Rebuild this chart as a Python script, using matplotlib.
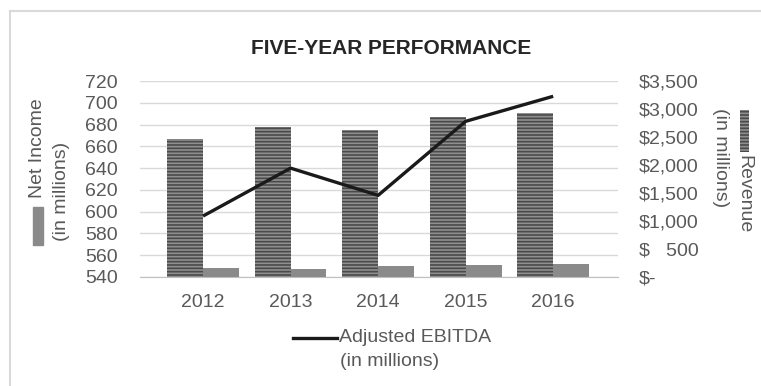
import matplotlib
matplotlib.use("Agg")
import matplotlib.pyplot as plt
from matplotlib.lines import Line2D
from matplotlib.patches import Rectangle

plt.rcParams['font.family'] = ['Liberation Sans', 'DejaVu Sans']
plt.rcParams['hatch.linewidth'] = 1.2

years = ['2012', '2013', '2014', '2015', '2016']
revenue = [2465, 2685, 2625, 2850, 2925]          # right axis, $ millions
net_income = [548.6, 547.1, 549.8, 551.0, 552.3]  # left axis
adj_ebitda = [596, 640, 615, 683, 706]            # left axis

left_ticks = list(range(540, 721, 20))
right_ticks = list(range(0, 3501, 500))
right_labels = ['$-', '$   500', '$1,000', '$1,500', '$2,000', '$2,500', '$3,000', '$3,500']

TXT = '#595959'
GRID = '#d9d9d9'
FS = 14

fig = plt.figure(figsize=(7.61, 3.86), dpi=100)
rect = [0.184, 0.2824, 0.628, 0.5076]

ax = fig.add_axes(rect)
x = list(range(len(years)))
w = 0.41

# left scale: grid and net income bars
ax.bar(x, net_income, width=w, align='edge', color='#8a8a8a', zorder=2)
ax.set_ylim(540, 720)
ax.set_yticks(left_ticks)
ax.set_xlim(-0.72, 4.74)
ax.set_xticks(x)
ax.set_xticklabels(years)
ax.grid(axis='y', color=GRID, linewidth=1)
ax.set_axisbelow(True)
for s in ['top', 'left', 'right']:
    ax.spines[s].set_visible(False)
ax.spines['bottom'].set_color('#bfbfbf')
ax.tick_params(axis='y', length=0, labelsize=FS, labelcolor=TXT, pad=16)
ax.tick_params(axis='x', length=0, labelsize=FS, labelcolor=TXT, pad=12)

# right scale: revenue bars
ax2 = ax.twinx()
ax2.bar(x, revenue, width=-w, align='edge', color='#8f8f8f', edgecolor='#4a4a4a',
        hatch='-----', linewidth=0)
ax2.set_ylim(0, 3500)
ax2.set_yticks(right_ticks)
ax2.set_yticklabels(right_labels, ha='left')
ax2.tick_params(axis='y', length=0, labelsize=FS, labelcolor=TXT, pad=15)
for s in ax2.spines.values():
    s.set_visible(False)

# line on top, left scale
ax3 = fig.add_axes(rect, sharex=ax)
ax3.set_ylim(540, 720)
ax3.plot(x, adj_ebitda, color='#1a1a1a', linewidth=2.4, solid_capstyle='butt')
ax3.axis('off')
ax3.patch.set_visible(False)

fig.text(391 / 761, 1 - 48 / 386, 'FIVE-YEAR PERFORMANCE', ha='center', va='center',
         fontsize=15, fontweight='bold', color='#262626')

# left axis legend (rotated)
fig.add_artist(Rectangle((33 / 761, 1 - 245 / 386), 10 / 761, 38 / 386,
                         transform=fig.transFigure, color='#8a8a8a'))
fig.text(38 / 761, 1 - 198 / 386, 'Net Income', rotation=90, rotation_mode='anchor',
         ha='left', va='center', fontsize=FS, color=TXT)
fig.text(61 / 761, 1 - 241 / 386, '(in millions)', rotation=90, rotation_mode='anchor',
         ha='left', va='center', fontsize=FS, color=TXT)

# right axis legend (rotated)
fig.add_artist(Rectangle((740 / 761, 1 - 152 / 386), 9 / 761, 42 / 386,
                         transform=fig.transFigure, facecolor='#8f8f8f',
                         edgecolor='#4a4a4a', hatch='-----', linewidth=0))
fig.text(744 / 761, 1 - 155 / 386, 'Revenue', rotation=270, rotation_mode='anchor',
         ha='left', va='center', fontsize=FS, color=TXT)
fig.text(720 / 761, 1 - 108 / 386, '(in millions)', rotation=270, rotation_mode='anchor',
         ha='left', va='center', fontsize=FS, color=TXT)

# bottom legend
fig.add_artist(Line2D([293 / 761, 337 / 761], [1 - 337.5 / 386] * 2,
                      transform=fig.transFigure, color='#1a1a1a', linewidth=2.4))
fig.text(339 / 761, 1 - 338 / 386, 'Adjusted EBITDA', ha='left', va='center',
         fontsize=FS, color=TXT)
fig.text(340 / 761, 1 - 361.5 / 386, '(in millions)', ha='left', va='center',
         fontsize=FS, color=TXT)

# chart border (top and left visible)
fig.add_artist(Line2D([9.5 / 761, 1], [1 - 10.5 / 386] * 2, transform=fig.transFigure,
                      color=GRID, linewidth=1.5))
fig.add_artist(Line2D([9.5 / 761] * 2, [0, 1 - 10.5 / 386], transform=fig.transFigure,
                      color=GRID, linewidth=1.5))

fig.savefig('out.png', dpi=100)
